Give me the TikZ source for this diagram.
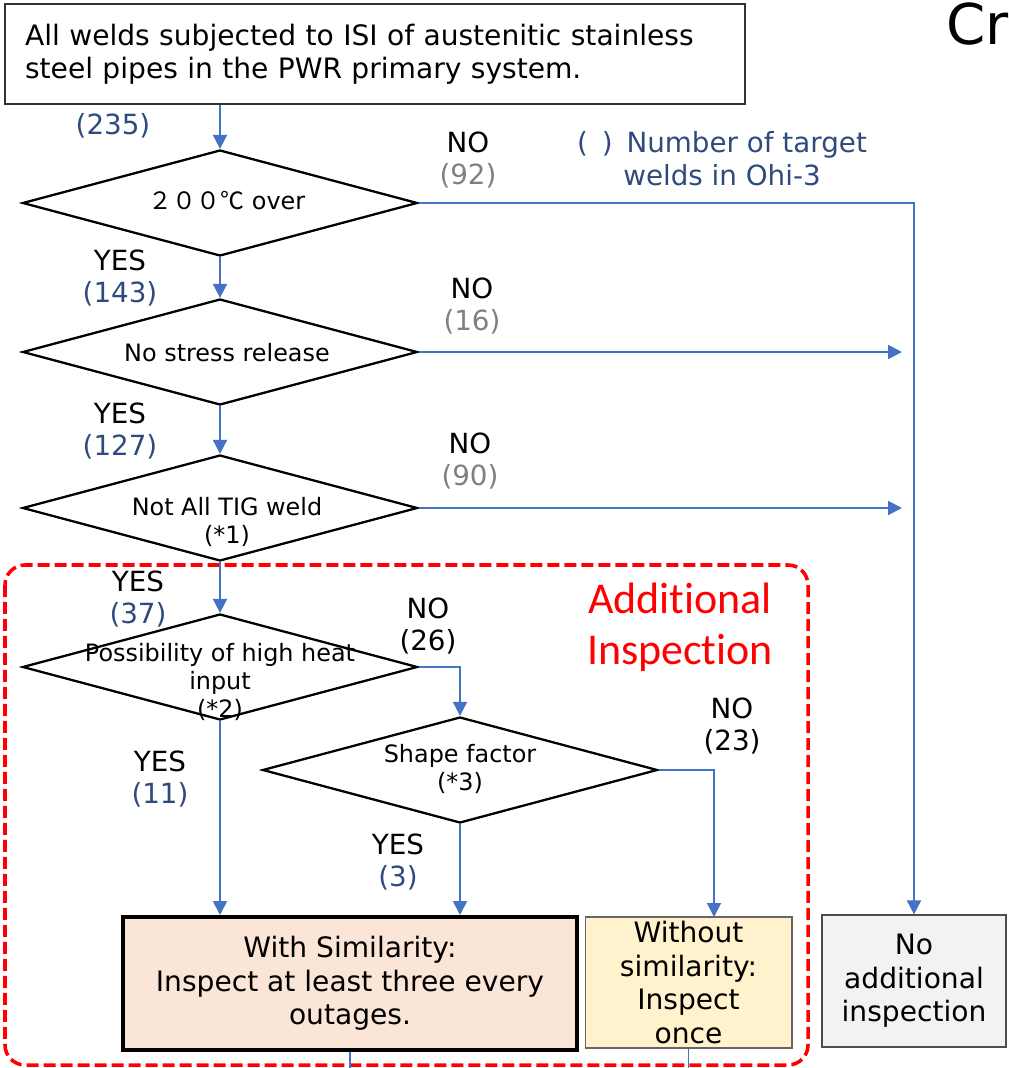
\documentclass[tikz,border=0pt]{standalone}
\usepackage{fontspec}
\setmainfont{DejaVu Sans}
\newfontfamily\calfont[Ligatures=NoCommon]{Carlito}
\newfontfamily\cjkfont{Noto Sans CJK JP}
\usetikzlibrary{shapes.geometric,arrows.meta}
\definecolor{linkblue}{RGB}{68,114,196}
\definecolor{numblue}{RGB}{47,75,125}
\definecolor{numgray}{RGB}{128,128,128}
\definecolor{simfill}{RGB}{251,229,214}
\definecolor{oncefill}{RGB}{255,242,204}
\definecolor{nofill}{RGB}{242,242,242}
\begin{document}
\begin{tikzpicture}[x=0.02cm,y=-0.02cm,
    dec/.style={diamond,draw,line width=1.3pt,minimum width=7.9cm,minimum height=2.12cm,inner sep=0pt},
    dectext/.style={align=center,inner sep=0pt,font=\fontsize{13.6}{15.9}\selectfont},
    ans/.style={align=center,inner sep=0pt,font=\fontsize{15.8}{18.7}\selectfont},
    box/.style={draw,align=center,inner sep=0pt,font=\fontsize{16}{19}\selectfont},
    link/.style={linkblue,line width=1.1pt},
    tip/.style={-{Triangle[length=0.28cm,width=0.28cm]}}]
      \useasboundingbox (0,0) rectangle (1008,1068);
      \draw[red,line width=2pt,dash pattern=on 0.24cm off 0.1cm,rounded corners=0.4cm]
        (5,565) rectangle (808,1065);
      \draw
        (375,54) node[box,align=left,text width=14cm,minimum width=14.8cm,minimum height=2cm,draw=black!80,line width=0.7pt] (all){All welds subjected to ISI of austenitic stainless\\steel pipes in the PWR primary system.}
        (220,203) node[dec] (q1){}
        (220,352) node[dec] (q2){}
        (220,508) node[dec] (q3){}
        (220,667) node[dec] (q4){}
        (460,770) node[dec] (q5){}
        (350,983.5) node[box,fill=simfill,line width=2.3pt,minimum width=9.08cm,minimum height=2.66cm] (sim){With Similarity:\\Inspect at least three every\\outages.}
        (688.5,982.5) node[box,fill=oncefill,draw=black!60,line width=0.6pt,minimum width=4.14cm,minimum height=2.62cm] (once){Without\\similarity:\\Inspect\\once}
        (914,981) node[box,fill=nofill,draw=black!70,line width=0.7pt,minimum width=3.68cm,minimum height=2.64cm] (none){No\\additional\\inspection};
      \draw
        (227,201) node[dectext] (t1){{\cjkfont ２００℃} over}
        (227,353) node[dectext] (t2){No stress release}
        (227,522) node[dectext] (t3){Not All TIG weld\\(*1)}
        (220,682) node[dectext] (t4){Possibility of high heat\\input\\(*2)}
        (460,769) node[dectext] (t5){Shape factor\\(*3)};
      \draw
        (113,126) node[ans,text=numblue] (n0){(235)}
        (468,160) node[ans] (a1){NO\\\textcolor{numgray}{(92)}}
        (120,278) node[ans] (b1){YES\\\textcolor{numblue}{(143)}}
        (472,306) node[ans] (a2){NO\\\textcolor{numgray}{(16)}}
        (120,431) node[ans] (b2){YES\\\textcolor{numblue}{(127)}}
        (470,461) node[ans] (a3){NO\\\textcolor{numgray}{(90)}}
        (138,599) node[ans] (b3){YES\\\textcolor{numblue}{(37)}}
        (428,626) node[ans] (a4){NO\\(26)}
        (732,726) node[ans] (a5){NO\\(23)}
        (160,779) node[ans] (b4){YES\\\textcolor{numblue}{(11)}}
        (398,862) node[ans] (b5){YES\\\textcolor{numblue}{(3)}}
        (722,159) node[ans,text=numblue] (key){(\enspace)\enspace Number of target\\welds in Ohi-3}
        (680,627) node[align=center,inner sep=0pt,red,font=\calfont\fontsize{25}{29}\selectfont] (extra){Additional\\Inspection}
        (946,24) node[anchor=west,inner sep=0pt,font=\fontsize{32}{36}\selectfont] (title){Cr};
      \coordinate (r2) at (902,352);
      \coordinate (r3) at (902,508);
      \coordinate (in5) at (714,917);
      \coordinate (out1) at (350,1070);
      \coordinate (out2) at (688.5,1070);
      \begin{scope}[link,tip]
        \draw (all.south -| q1.north) to (q1.north);
        \draw (q1.south) to (q2.north);
        \draw (q2.south) to (q3.north);
        \draw (q3.south) to (q4.north);
        \draw (q1.east) -| (none.north);
        \draw (q2.east) to (r2);
        \draw (q3.east) to (r3);
        \draw (q4.east) -| (q5.north);
        \draw (q4.south) to (q4.south |- sim.north);
        \draw (q5.south) to (q5.south |- sim.north);
        \draw (q5.east) -| (in5);
      \end{scope}
      \begin{scope}[link]
        \draw (sim.south) to (out1);
        \draw (once.south) to (out2);
      \end{scope}
    \end{tikzpicture}
\end{document}
